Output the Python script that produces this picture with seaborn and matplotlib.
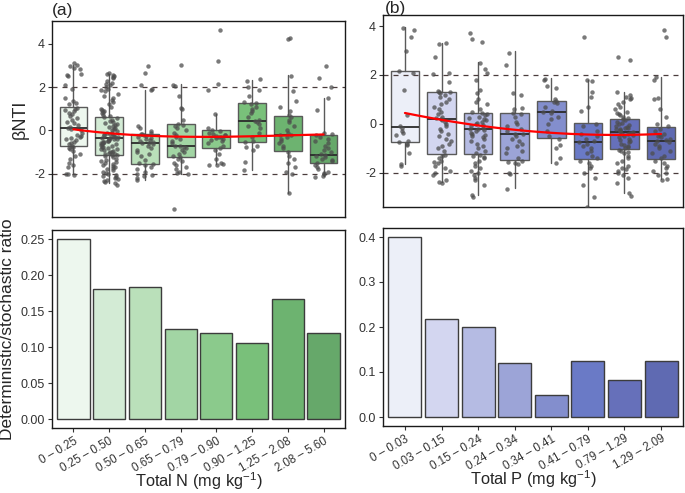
import numpy as np
import pandas as pd
import matplotlib
matplotlib.use("Agg")
import matplotlib.pyplot as plt
import seaborn as sns

sns.set_theme(style="white")
plt.rcParams['font.family'] = ['Liberation Sans', 'DejaVu Sans']
plt.rcParams['axes.unicode_minus'] = False
plt.rcParams['mathtext.fontset'] = 'custom'
plt.rcParams['mathtext.rm'] = 'Liberation Sans'
plt.rcParams['mathtext.it'] = 'Liberation Sans:italic'

# ---------------- data ----------------
n_cats = ["0 – 0.25", "0.25 – 0.50", "0.50 – 0.65", "0.65 – 0.79",
          "0.79 – 0.90", "0.90 – 1.25", "1.25 – 2.08", "2.08 – 5.60"]
p_cats = ["0 – 0.03", "0.03 – 0.15", "0.15 – 0.24", "0.24 – 0.34",
          "0.34 – 0.41", "0.41 – 0.79", "0.79 – 1.29", "1.29 – 2.09"]

n_ratio = [0.25, 0.18, 0.184, 0.125, 0.12, 0.105, 0.167, 0.12]
p_ratio = [0.40, 0.217, 0.20, 0.12, 0.05, 0.125, 0.083, 0.125]

n_colors = ["#EDF7EE", "#D3EBD5", "#BAE0BA", "#A2D5A4",
            "#8BCA8C", "#79C07A", "#6DB370", "#66A86A"]
p_colors = ["#ECEFF8", "#D3D6F0", "#B5BBE3", "#9CA4D7",
            "#838ECD", "#6A7AC6", "#6670BA", "#5F6AB2"]

# box statistics: q1, median, q3, lower whisker, upper whisker
n_q1 = [-0.71, -1.12, -1.54, -1.23, -0.80, -0.54, -0.97, -1.50]
n_med = [0.12, -0.34, -0.58, -0.72, -0.29, 0.41, -0.23, -1.15]
n_q3 = [1.08, 0.62, -0.15, 0.28, 0.00, 1.26, 0.66, -0.20]
n_wlo = [-2.03, -2.45, -2.30, -2.00, -1.54, -1.85, -2.89, -2.12]
n_whi = [3.0, 2.6, 1.88, 2.15, 0.74, 2.34, 2.54, 1.51]

p_q1 = [-0.72, -1.24, -1.24, -1.47, -0.56, -1.43, -1.03, -1.44]
p_med = [-0.11, 0.20, -0.22, -0.42, 0.50, -0.75, -0.31, -0.71]
p_q3 = [2.16, 1.29, 0.44, 0.44, 0.94, 0.05, 0.19, -0.14]
p_wlo = [-1.65, -2.35, -2.90, -2.63, -1.58, -3.37, -2.80, -2.26]
p_whi = [3.95, 3.29, 2.54, 2.99, 1.86, 1.80, 1.32, 1.93]

# smoothed trend values at each category
n_trend = [0.05, -0.13, -0.24, -0.29, -0.30, -0.27, -0.23, -0.19]
p_trend = [0.45, 0.16, -0.04, -0.24, -0.38, -0.42, -0.44, -0.41]

# individual betaNTI values per category
n_pts = [
    [3.1, 3.0, 2.95, 2.9, 2.85, 2.6, 2.55, 2.5, 2.1, 1.9, 1.5, 1.35, 1.25, 1.2, 1.05, 1.0,
     0.95, 0.9, 0.8, 0.75, 0.65, 0.55, 0.5, 0.4, 0.35, 0.25, 0.15, 0.1, 0.05, 0.0, -0.1,
     -0.2, -0.25, -0.3, -0.35, -0.4, -0.45, -0.55, -0.6, -0.65, -0.7, -0.75, -0.8, -0.85,
     -0.95, -1.1, -1.2, -1.3, -1.5, -1.6, -1.7, -2.0, -2.05, -2.0],
    [2.65, 2.6, 2.55, 2.5, 2.45, 2.4, 2.3, 2.2, 2.15, 2.1, 2.0, 1.9, 1.85, 1.8, 1.7, 1.6,
     1.5, 1.4, 1.3, 1.2, 1.1, 1.0, 0.95, 0.9, 0.85, 0.8, 0.7, 0.65, 0.6, 0.55,
     0.5, 0.45, 0.4, 0.35, 0.3, 0.25, 0.2, 0.15, 0.1, 0.05, 0.0, -0.05, -0.1, -0.12,
     -0.15, -0.2, -0.22, -0.25, -0.28, -0.3, -0.32, -0.35, -0.35, -0.38,
     -0.4, -0.42, -0.45, -0.5, -0.55, -0.6, -0.62, -0.65, -0.7, -0.75, -0.8, -0.85, -0.9,
     -0.95, -1.0, -1.05, -1.1, -1.12, -1.15, -0.48, -0.58, -0.68, -0.78, -0.88, -0.98,
     -1.08, -0.52, -1.2, -1.25, -1.3, -1.35, -1.4, -1.45, -1.5, -1.55, -1.6, -1.65, -1.7,
     -1.75, -1.8, -1.85, -1.9, -1.95, -2.0, -2.05, -2.1, -2.15, -2.2, -2.25, -2.3, -2.35,
     -2.4, -2.45, -2.5],
    [2.95, 2.65, 2.1, 1.85, 1.9, 0.2, 0.1, -0.05, -0.1, -0.15, -0.15, -0.2, -0.25, -0.3,
     -0.35, -0.4, -0.45, -0.5, -0.55, -0.58, -0.6, -0.65, -0.7, -0.8, -0.9, -1.0, -1.1,
     -1.2, -1.35, -1.5, -1.55, -1.6, -1.7, -1.8, -1.9, -2.0, -2.05, -2.1, -2.2, -2.3],
    [3.0, 2.1, 2.05, 1.6, 1.05, 1.0, 0.5, 0.3, 0.25, 0.2, 0.1, 0.0, -0.1, -0.2, -0.3,
     -0.4, -0.5, -0.6, -0.7, -0.72, -0.75, -0.8, -0.9, -1.0, -1.1, -1.2, -1.25, -1.3,
     -1.4, -1.5, -1.6, -1.7, -1.8, -1.9, -2.0, -1.95, -3.65],
    [4.65, 3.18, 2.12, 1.85, 0.74, 0.1, 0.0, -0.05, -0.1, -0.15, -0.2, -0.2, -0.25, -0.3,
     -0.3, -0.35, -0.4, -0.45, -0.5, -0.6, -0.7, -0.8, -0.9, -1.1, -1.3, -1.5, -1.6,
     -1.6, -1.55],
    [2.35, 2.3, 2.0, 1.85, 1.6, 1.3, 1.25, 1.2, 1.1, 1.0, 0.9, 0.8, 0.6, 0.5, 0.45, 0.4,
     0.3, 0.2, 0.1, -0.1, -0.3, -0.5, -0.55, -0.7, -0.75, -0.9, -1.45, -1.85],
    [4.25, 4.2, 2.5, 1.8, 1.35, 1.1, 0.9, 0.7, 0.6, 0.5, 0.4, 0.2, 0.0, -0.1, -0.2,
     -0.23, -0.3, -0.4, -0.5, -0.6, -0.7, -0.8, -1.0, -1.2, -1.3, -1.5, -1.7, -1.9,
     -2.0, -2.9],
    [2.95, 2.4, 2.0, 1.5, 0.95, -0.1, -0.15, -0.2, -0.3, -0.4, -0.5, -0.6, -0.7, -0.8,
     -0.9, -1.0, -1.1, -1.15, -1.2, -1.25, -1.3, -1.35, -1.4, -1.5, -1.6, -1.7, -1.8,
     -1.9, -1.95, -2.0, -2.1, -2.15],
]
p_pts = [
    [3.9, 3.85, 3.55, 3.0, 2.15, 2.1, 1.4, 0.35, -0.1, -0.15, -0.3, -0.35, -0.45, -0.7,
     -0.75, -0.8, -0.85, -1.2, -1.65, -1.7],
    [3.3, 3.25, 2.75, 2.1, 2.05, 1.7, 1.35, 1.3, 1.3, 1.25, 1.2, 1.1, 1.0, 0.9, 0.8, 0.7,
     0.6, 0.5, 0.4, 0.3, 0.25, 0.2, 0.15, 0.1, 0.0, -0.1, -0.2, -0.3, -0.4, -0.5, -0.6,
     -0.7, -0.8, -0.9, -1.0, -1.1, -1.25, -1.3, -1.4, -1.5, -1.55, -1.6, -1.7, -1.8,
     -1.9, -2.0, -2.1, -2.3, -2.35, -2.4],
    [3.7, 3.45, 3.35, 2.5, 2.25, 2.1, 1.8, 1.4, 1.25, 1.0, 0.9, 0.8, 0.6, 0.5, 0.45, 0.4,
     0.35, 0.3, 0.25, 0.2, 0.15, 0.1, 0.05, 0.0, -0.05, -0.1, -0.15, -0.2, -0.22, -0.25,
     -0.3, -0.35, -0.4, -0.45, -0.5, -0.55, -0.6, -0.7, -0.8, -0.9, -1.0, -1.1, -1.2,
     -1.25, -1.3, -1.35, -1.4, -1.5, -1.6, -1.7, -1.8, -1.9, -2.0, -2.1, -2.2, -2.3,
     -2.5, -2.9, -3.0],
    [2.9, 2.4, 1.25, 1.2, 0.65, 0.6, 0.45, 0.4, 0.3, 0.1, 0.0, -0.1, -0.2, -0.3, -0.4,
     -0.42, -0.5, -0.6, -0.7, -0.8, -0.9, -1.0, -1.1, -1.2, -1.4, -1.5, -1.55, -1.6,
     -1.65, -2.0, -2.05, -2.65],
    [1.85, 1.8, 1.55, 1.45, 1.0, 0.95, 0.9, 0.85, 0.7, 0.55, 0.5, 0.45, 0.3, 0.2, 0.0,
     -0.3, -0.5, -0.6, -0.85, -1.0, -1.4, -1.6],
    [3.57, 1.8, 1.75, 1.3, 1.1, 0.7, 0.55, 0.0, -0.1, -0.3, -0.4, -0.5, -0.6, -0.7,
     -0.75, -0.8, -0.9, -1.0, -1.1, -1.2, -1.3, -1.4, -1.5, -1.6, -1.7, -1.8, -2.0,
     -2.2, -2.5, -3.0, -3.4],
    [2.75, 2.6, 1.3, 1.2, 1.1, 1.05, 1.0, 0.9, 0.8, 0.7, 0.6, 0.5, 0.45, 0.4, 0.35, 0.3,
     0.25, 0.2, 0.15, 0.1, 0.05, 0.0, -0.05, -0.1, -0.12, -0.15, -0.18, -0.2, -0.22,
     -0.25, -0.28, -0.3, -0.32, -0.35, -0.38, -0.4, -0.42, -0.45, -0.5, -0.55, -0.6,
     -0.65, -0.7, -0.75, -0.8, -0.85, -0.9, -0.95, -1.0, -1.05, -1.1, -1.15, -1.2, -1.3,
     -1.4, -1.5, -1.6, -1.7, -1.8, -1.85, -1.9, -2.0, -2.1, -2.2, -2.4, -2.8, -2.95],
    [3.84, 3.54, 1.9, 1.8, 1.05, 1.0, 0.6, 0.3, 0.0, -0.1, -0.2, -0.3, -0.4, -0.45,
     -0.5, -0.55, -0.6, -0.65, -0.7, -0.75, -0.8, -0.9, -1.0, -1.1, -1.2, -1.3, -1.4,
     -1.5, -1.6, -1.7, -1.8, -1.9, -2.0, -2.1, -2.25, -2.3],
]

# ---------------- figure ----------------
W, H = 685, 493
fig = plt.figure(figsize=(W / 100, H / 100), dpi=100)


def fig_axes(l, t, r, b):
    return fig.add_axes([l / W, 1 - b / H, (r - l) / W, (b - t) / H])


ax_ta = fig_axes(52, 21, 345, 217)
ax_tb = fig_axes(383, 15, 683, 207)
ax_ba = fig_axes(52, 230, 345, 428)
ax_bb = fig_axes(383, 228, 683, 426)

np.random.seed(3)


def top_panel(ax, cats, pts, q1, med, q3, wlo, whi, colors, trend, ylim):
    stats = []
    for i in range(len(cats)):
        stats.append(dict(q1=q1[i], med=med[i], q3=q3[i], whislo=wlo[i], whishi=whi[i],
                          fliers=[]))
    bp = ax.bxp(stats, positions=np.arange(len(cats)), widths=0.78, patch_artist=True,
                showfliers=False, manage_ticks=False,
                boxprops=dict(edgecolor="#5a5a5a", linewidth=1.0),
                whiskerprops=dict(color="#5a5a5a", linewidth=1.0),
                capprops=dict(linewidth=0),
                medianprops=dict(color="#2b2b2b", linewidth=1.3))
    for patch, c in zip(bp["boxes"], colors):
        patch.set_facecolor(c)
        patch.set_zorder(1)
    df = pd.DataFrame({"cat": np.repeat(cats, [len(p) for p in pts]),
                       "val": np.concatenate([np.array(p, float) for p in pts])})
    sns.stripplot(data=df, x="cat", y="val", order=cats, ax=ax, color="#4d4d4d",
                  alpha=0.75, size=3.2, jitter=0.25, linewidth=0, zorder=3)
    sns.regplot(x=np.arange(len(cats)), y=np.array(trend), order=3, scatter=False,
                ci=None, truncate=True, ax=ax, line_kws=dict(color="#FF0000", lw=1.6,
                                                             zorder=5))
    for yv in (-2, 2):
        ax.axhline(yv, color="#4a3c3c", lw=0.9, ls=(0, (4, 4)), zorder=2)
    ax.set_xlim(-0.6, len(cats) - 0.4)
    ax.set_ylim(*ylim)
    ax.set_yticks([-2, 0, 2, 4])
    ax.set_xticks([])
    ax.set_xlabel("")
    ax.set_ylabel("")


def bottom_panel(ax, cats, vals, colors, ylim, yticks, fmt, xlabel):
    df = pd.DataFrame({"cat": cats, "val": vals})
    sns.barplot(data=df, x="cat", y="val", hue="cat", order=cats, hue_order=cats,
                palette=colors, legend=False, width=0.9, edgecolor="#3c3c3c",
                linewidth=1.0, ax=ax, saturation=1)
    ax.set_xlim(-0.6, len(cats) - 0.4)
    ax.set_ylim(*ylim)
    ax.set_yticks(yticks)
    ax.set_yticklabels([fmt.format(v) for v in yticks])
    ax.set_xticks(np.arange(len(cats)))
    ax.set_xticklabels(cats, rotation=30, ha="right", rotation_mode="anchor",
                       fontsize=8.3)
    ax.set_xlabel(xlabel, fontsize=11.8, va="top")
    ax.xaxis.set_label_coords(0.5, -0.212)
    ax.set_ylabel("")


top_panel(ax_ta, n_cats, n_pts, n_q1, n_med, n_q3, n_wlo, n_whi, n_colors, n_trend,
          (-4.0, 5.05))
top_panel(ax_tb, p_cats, p_pts, p_q1, p_med, p_q3, p_wlo, p_whi, p_colors, p_trend,
          (-3.39, 4.45))
bottom_panel(ax_ba, n_cats, n_ratio, n_colors, (-0.0125, 0.2625),
             [0, 0.05, 0.10, 0.15, 0.20, 0.25], "{:.2f}", r"Total N (mg kg$^{-1}$)")
bottom_panel(ax_bb, p_cats, p_ratio, p_colors, (-0.02, 0.42),
             [0, 0.1, 0.2, 0.3, 0.4], "{:.1f}", r"Total P (mg kg$^{-1}$)")

for ax in (ax_ta, ax_tb, ax_ba, ax_bb):
    for s in ax.spines.values():
        s.set_visible(True)
        s.set_color("#1a1a1a")
        s.set_linewidth(1.0)
    ax.tick_params(axis="y", which="both", left=True, length=3, width=0.8,
                   color="#333333", labelsize=9, labelcolor="#333333", pad=2)
for ax in (ax_ba, ax_bb):
    ax.tick_params(axis="x", bottom=True, length=3, width=0.8, color="#333333",
                   labelcolor="#333333", pad=2)

ax_ta.set_ylabel("βNTI", fontsize=13, labelpad=4)
ax_ba.set_ylabel("Deterministic/stochastic ratio", fontsize=12.5, labelpad=4)
fig.text(52 / W, 1 - 11 / H, "(a)", fontsize=12.5, va="center", ha="left")
fig.text(385 / W, 1 - 8 / H, "(b)", fontsize=12.5, va="center", ha="left")

fig.savefig("out.png", dpi=100)
